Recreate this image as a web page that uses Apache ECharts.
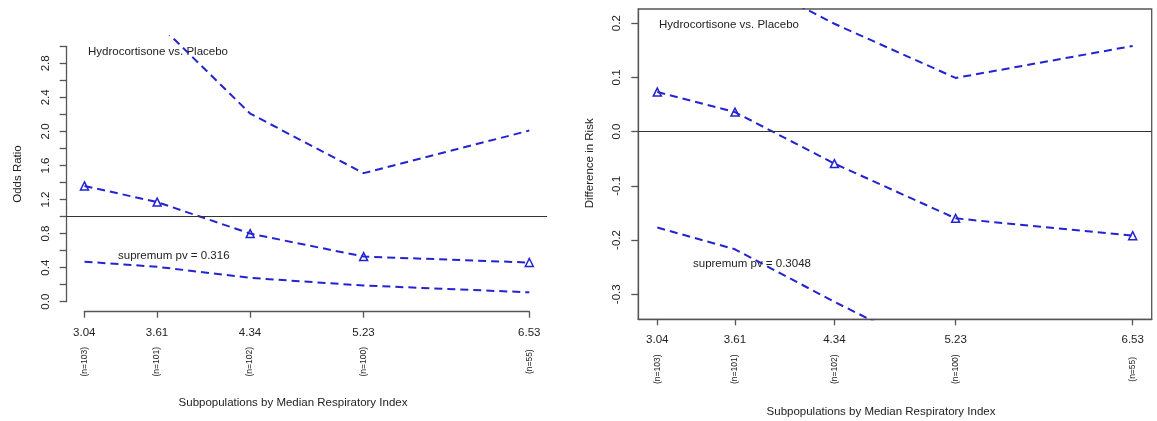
<!DOCTYPE html>
<html><head><meta charset="utf-8">
<script src="https://cdn.jsdelivr.net/npm/echarts@6/dist/echarts.min.js"></script>
<style>html,body{margin:0;padding:0;background:#fff}#c{width:1157px;height:421px}</style>
</head><body><div id="c"></div>
<script>
// ---- data ----
const subpopMedians = [3.04, 3.61, 4.34, 5.23, 6.53];
const subpopSizes = [103, 101, 102, 100, 55];
const oddsRatioEst = [1.36, 1.17, 0.80, 0.53, 0.46];
const oddsRatioLower = [0.47, 0.41, 0.28, 0.19, 0.11];
const oddsRatioUpper = [4.2, 3.28, 2.21, 1.51, 2.01];
const riskDiffEst = [0.073, 0.036, -0.059, -0.160, -0.192];
const riskDiffLower = [-0.177, -0.217, -0.314, -0.425, -0.52];
const riskDiffUpper = [0.36, 0.294, 0.199, 0.099, 0.158];
const orTickValues = [0, 0.2, 0.4, 0.6, 0.8, 1.0, 1.2, 1.4, 1.6, 1.8, 2.0, 2.2, 2.4, 2.6, 2.8, 3.0];
const orLabelValues = [0, 0.4, 0.8, 1.2, 1.6, 2.0, 2.4, 2.8];
const rdTickValues = [-0.3, -0.2, -0.1, 0, 0.1, 0.2];
const orReference = 1;
const rdReference = 0;
const orLimits = [0, 3];
const rdLimits = [-0.325, 0.205];
const comparisonText = 'Hydrocortisone vs. Placebo';
const orPvText = 'supremum pv = 0.316';
const rdPvText = 'supremum pv = 0.3048';
const xTitle = 'Subpopulations by Median Respiratory Index';
const orTitle = 'Odds Ratio';
const rdTitle = 'Difference in Risk';

// ---- helpers ----
const BLUE = '#2323d2';
const AX = '#555';
const TXT = '#222';
const FONT = '"Liberation Sans", Arial, sans-serif';
const pad = (lo, hi) => [lo - 0.04 * (hi - lo), hi + 0.04 * (hi - lo)];
const xRange = pad(subpopMedians[0], subpopMedians[subpopMedians.length - 1]);
const orRange = pad(orLimits[0], orLimits[1]);
const rdRange = pad(rdLimits[0], rdLimits[1]);
const pairs = ys => subpopMedians.map((x, i) => [x, ys[i]]);
const nLabel = v => {
  const i = subpopMedians.findIndex(m => Math.abs(m - v) < 1e-9);
  return i < 0 ? '' : '(n=' + subpopSizes[i] + ')';
};
const axLine = {show: true, onZero: false, lineStyle: {color: AX, width: 1.3}};
const hidden = {show: false};

function ciSeries(xi, yi, ys) {
  return {type: 'line', xAxisIndex: xi, yAxisIndex: yi, data: pairs(ys), symbol: 'none',
    lineStyle: {color: BLUE, width: 2, type: [8, 5]}, clip: true, silent: true};
}
function estSeries(xi, yi, ys, ref) {
  return {type: 'line', xAxisIndex: xi, yAxisIndex: yi, data: pairs(ys),
    symbol: 'triangle', symbolSize: 8, showSymbol: true,
    itemStyle: {color: 'rgba(0,0,0,0)', borderColor: BLUE, borderWidth: 1.5},
    lineStyle: {color: BLUE, width: 2, type: [8, 5]}, clip: true, silent: true,
    markLine: {silent: true, symbol: 'none', label: {show: false},
      lineStyle: {color: '#333', width: 1, type: 'solid'}, data: [{yAxis: ref}]}};
}
function xTickAxis(grid, min, max) {
  return {gridIndex: grid, type: 'value', min, max, position: 'bottom',
    axisLine: axLine, splitLine: hidden,
    axisTick: {show: true, length: 6, customValues: subpopMedians, lineStyle: {color: AX, width: 1.3}},
    axisLabel: {customValues: subpopMedians, formatter: v => v.toFixed(2), margin: 15,
      fontSize: 11.5, fontFamily: FONT, color: TXT}};
}
function nAxis(grid, min, max) {
  return {gridIndex: grid, type: 'value', min, max, position: 'bottom',
    axisLine: {show: false}, axisTick: {show: false}, splitLine: hidden,
    axisLabel: {customValues: subpopMedians, formatter: nLabel, rotate: 90,
      align: 'center', verticalAlign: 'middle', margin: 50,
      fontSize: 8.5, fontFamily: FONT, color: TXT}};
}

const chart = echarts.init(document.getElementById('c'), null, {renderer: 'canvas'});
chart.setOption({
  animation: false,
  backgroundColor: '#fff',
  grid: [
    {left: 66.7, top: 36.1, width: 480.4, height: 275.8},       // 0 left data
    {left: 66.7, top: 46.3, width: 480.4, height: 255.4},       // 1 left y axis
    {left: 84.3, top: 36.1, width: 445.0, height: 275.6},       // 2 left x axis
    {left: 638.3, top: 9, width: 513.4, height: 310.3, show: true,
      borderColor: AX, borderWidth: 1.3, backgroundColor: 'rgba(0,0,0,0)'} // 3 right
  ],
  xAxis: [
    {gridIndex: 0, type: 'value', min: xRange[0], max: xRange[1], show: false},
    {gridIndex: 1, type: 'value', min: 0, max: 1, show: false},
    xTickAxis(2, subpopMedians[0], subpopMedians[subpopMedians.length - 1]),
    nAxis(2, subpopMedians[0], subpopMedians[subpopMedians.length - 1]),
    xTickAxis(3, xRange[0], xRange[1]),
    nAxis(3, xRange[0], xRange[1])
  ],
  yAxis: [
    {gridIndex: 0, type: 'value', min: orRange[0], max: orRange[1], show: false},
    {gridIndex: 1, type: 'value', min: orLimits[0], max: orLimits[1],
      axisLine: axLine, splitLine: hidden,
      axisTick: {show: true, length: 7, customValues: orTickValues, lineStyle: {color: AX, width: 1.3}},
      axisLabel: {customValues: orLabelValues, formatter: v => v.toFixed(1), rotate: 90,
        align: 'center', verticalAlign: 'bottom', margin: 15,
        fontSize: 11.5, fontFamily: FONT, color: TXT}},
    {gridIndex: 2, type: 'value', show: false},
    {gridIndex: 3, type: 'value', min: rdRange[0], max: rdRange[1],
      axisLine: axLine, splitLine: hidden,
      axisTick: {show: true, length: 7, customValues: rdTickValues, lineStyle: {color: AX, width: 1.3}},
      axisLabel: {customValues: rdTickValues, formatter: v => v.toFixed(1), rotate: 90,
        align: 'center', verticalAlign: 'bottom', margin: 15,
        fontSize: 11.5, fontFamily: FONT, color: TXT}}
  ],
  series: [
    ciSeries(0, 0, oddsRatioUpper),
    ciSeries(0, 0, oddsRatioLower),
    estSeries(0, 0, oddsRatioEst, orReference),
    ciSeries(4, 3, riskDiffUpper),
    ciSeries(4, 3, riskDiffLower),
    estSeries(4, 3, riskDiffEst, rdReference)
  ],
  graphic: [
    {type: 'text', x: 88, y: 52.3, style: {text: comparisonText, font: '11.5px ' + FONT, fill: TXT, align: 'left', verticalAlign: 'middle'}},
    {type: 'text', x: 118, y: 256, style: {text: orPvText, font: '11.5px ' + FONT, fill: TXT, align: 'left', verticalAlign: 'middle'}},
    {type: 'text', x: 659, y: 25, style: {text: comparisonText, font: '11.5px ' + FONT, fill: TXT, align: 'left', verticalAlign: 'middle'}},
    {type: 'text', x: 693, y: 264.3, style: {text: rdPvText, font: '11.5px ' + FONT, fill: TXT, align: 'left', verticalAlign: 'middle'}},
    {type: 'text', x: 293, y: 403, style: {text: xTitle, font: '11.5px ' + FONT, fill: TXT, align: 'center', verticalAlign: 'middle'}},
    {type: 'text', x: 881, y: 411.7, style: {text: xTitle, font: '11.5px ' + FONT, fill: TXT, align: 'center', verticalAlign: 'middle'}},
    {type: 'text', x: 18.3, y: 174, rotation: Math.PI / 2, style: {text: orTitle, font: '11.5px ' + FONT, fill: TXT, align: 'center', verticalAlign: 'middle'}},
    {type: 'text', x: 590, y: 163.3, rotation: Math.PI / 2, style: {text: rdTitle, font: '11.5px ' + FONT, fill: TXT, align: 'center', verticalAlign: 'middle'}}
  ]
});
</script></body></html>
